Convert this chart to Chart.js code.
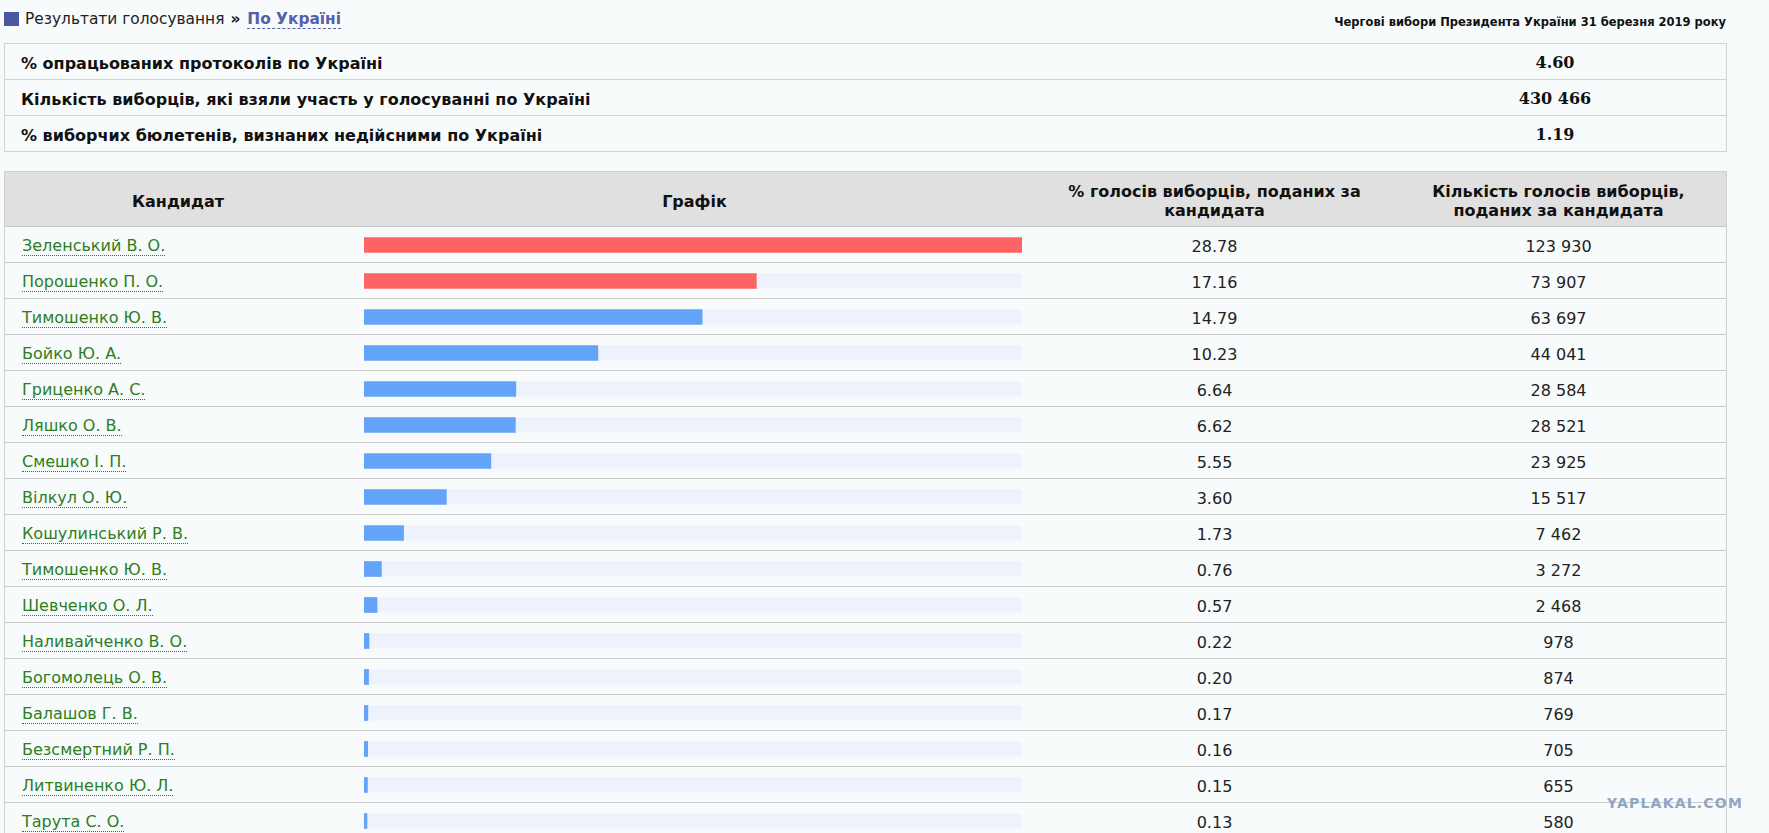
<!DOCTYPE html>
<html><head><meta charset="utf-8">
<script src="https://cdn.jsdelivr.net/npm/chart.js@4.4.1/dist/chart.umd.min.js"></script>
<style>
html,body{margin:0;padding:0;background:#f8fbfc;overflow:hidden;width:1769px;height:833px;font-family:"DejaVu Sans",Verdana,sans-serif;color:#111;}
.abs{position:absolute;}
#sq{left:4px;top:12px;width:15px;height:14px;background:#4a58a0;}
#crumb{left:25px;top:7px;font-size:15.4px;line-height:24px;color:#222;white-space:nowrap;}
#crumb b.sep{font-weight:bold;color:#111;margin:0 2px 0 6px;}
#crumb span.link{font-weight:bold;color:#5561a8;border-bottom:1px dashed #5561a8;}
#election{right:43px;top:14px;font-size:11.5px;font-weight:bold;line-height:16px;color:#111;white-space:nowrap;}
#summary{left:4px;top:43px;width:1721px;border:1px solid #d3d3d3;border-bottom:none;}
.srow{position:relative;height:35px;border-bottom:1px solid #d3d3d3;}
.slabel{position:absolute;left:16px;top:2px;line-height:35px;font-size:16px;font-weight:bold;white-space:nowrap;}
.sval{position:absolute;left:1378px;width:344px;top:1px;line-height:35px;text-align:center;font-family:"DejaVu Serif",serif;font-weight:bold;font-size:16px;}
#results{left:4px;top:171px;width:1721px;border:1px solid #d0d0d0;border-bottom:none;}
#head{position:relative;height:54px;background:#e0e0e0;border-bottom:1px solid #c9c9c9;font-weight:bold;font-size:16px;}
.hc{position:absolute;top:2px;height:54px;display:flex;align-items:center;justify-content:center;text-align:center;line-height:19px;}
.rrow{position:relative;height:35px;border-bottom:1px solid #cacaca;font-size:16px;}
.name{position:absolute;left:17px;top:10px;line-height:18px;color:#2f7d22;border-bottom:1px dotted #2f7d22;white-space:nowrap;}
.num{position:absolute;top:2px;line-height:35px;text-align:center;color:#222;}
#chartBox{position:absolute;left:364px;top:227px;width:658px;height:612px;}
#wm{left:1607px;top:795px;font-size:14px;font-weight:bold;color:#8ea6c2;letter-spacing:1.2px;white-space:nowrap;}
</style>
</head><body>
<div id="sq" class="abs"></div>
<div id="crumb" class="abs">Результати голосування<b class="sep">»</b> <span class="link">По Україні</span></div>
<div id="election" class="abs">Чергові вибори Президента України 31 березня 2019 року</div>
<div id="summary" class="abs"></div>
<div id="results" class="abs"></div>
<div id="chartBox"><canvas id="c"></canvas></div>
<div id="wm" class="abs">YAPLAKAL.COM</div>
<script>
// ---- data ----
const summaryLabels = [
  "% опрацьованих протоколів по Україні",
  "Кількість виборців, які взяли участь у голосуванні по Україні",
  "% виборчих бюлетенів, визнаних недійсними по Україні"
];
const summaryValues = ["4.60", "430 466", "1.19"];

const headers = ["Кандидат", "Графік", "% голосів виборців, поданих за<br>кандидата", "Кількість голосів виборців,<br>поданих за кандидата"];

const candidates = [
  "Зеленський В. О.", "Порошенко П. О.", "Тимошенко Ю. В.", "Бойко Ю. А.",
  "Гриценко А. С.", "Ляшко О. В.", "Смешко І. П.", "Вілкул О. Ю.",
  "Кошулинський Р. В.", "Тимошенко Ю. В.", "Шевченко О. Л.", "Наливайченко В. О.",
  "Богомолець О. В.", "Балашов Г. В.", "Безсмертний Р. П.", "Литвиненко Ю. Л.",
  "Тарута С. О."
];
const percents = [28.78, 17.16, 14.79, 10.23, 6.64, 6.62, 5.55, 3.60, 1.73, 0.76, 0.57, 0.22, 0.20, 0.17, 0.16, 0.15, 0.13];
const votes = [123930, 73907, 63697, 44041, 28584, 28521, 23925, 15517, 7462, 3272, 2468, 978, 874, 769, 705, 655, 580];
const runoffCount = 2;

// ---- layout helpers ----
const RED = "#fe6464", BLUE = "#63a3f9", TRACK = "#edf2fc";
function fmt(n){ return String(n).replace(/\B(?=(\d{3})+(?!\d))/g, " "); }

const sum = document.getElementById("summary");
summaryLabels.forEach((l, i) => {
  const r = document.createElement("div"); r.className = "srow";
  r.innerHTML = '<div class="slabel">' + l + '</div><div class="sval">' + summaryValues[i] + '</div>';
  sum.appendChild(r);
});

const cols = [[0, 346], [346, 687], [1033, 353], [1386, 335]];
const res = document.getElementById("results");
const head = document.createElement("div"); head.id = "head";
headers.forEach((h, i) => {
  const d = document.createElement("div"); d.className = "hc";
  d.style.left = cols[i][0] + "px"; d.style.width = cols[i][1] + "px";
  d.innerHTML = "<span>" + h + "</span>";
  head.appendChild(d);
});
res.appendChild(head);
candidates.forEach((c, i) => {
  const r = document.createElement("div"); r.className = "rrow";
  r.innerHTML = '<span class="name">' + c + '</span>' +
    '<div class="num" style="left:' + cols[2][0] + 'px;width:' + cols[2][1] + 'px">' + percents[i].toFixed(2) + '</div>' +
    '<div class="num" style="left:' + cols[3][0] + 'px;width:' + cols[3][1] + 'px">' + fmt(votes[i]) + '</div>';
  res.appendChild(r);
});

// ---- chart ----
const trackPlugin = {
  id: "track",
  beforeDatasetsDraw(chart) {
    const { ctx, scales: { x } } = chart;
    const meta = chart.getDatasetMeta(0);
    ctx.save();
    ctx.fillStyle = TRACK;
    meta.data.forEach(bar => {
      const h = bar.height;
      ctx.fillRect(x.left, bar.y - h / 2, x.right - x.left, h);
    });
    ctx.restore();
  }
};

new Chart(document.getElementById("c"), {
  type: "bar",
  data: {
    labels: candidates,
    datasets: [{
      data: percents,
      backgroundColor: ctx => ctx.dataIndex < runoffCount ? RED : BLUE,
      barThickness: 15,
      borderWidth: 0
    }]
  },
  options: {
    indexAxis: "y",
    responsive: true,
    maintainAspectRatio: false,
    animation: false,
    layout: { padding: 0 },
    plugins: { legend: { display: false }, tooltip: { enabled: false } },
    scales: {
      x: { display: false, min: 0, max: Math.max(...percents) },
      y: { display: false }
    }
  },
  plugins: [trackPlugin]
});
</script>
</body></html>
